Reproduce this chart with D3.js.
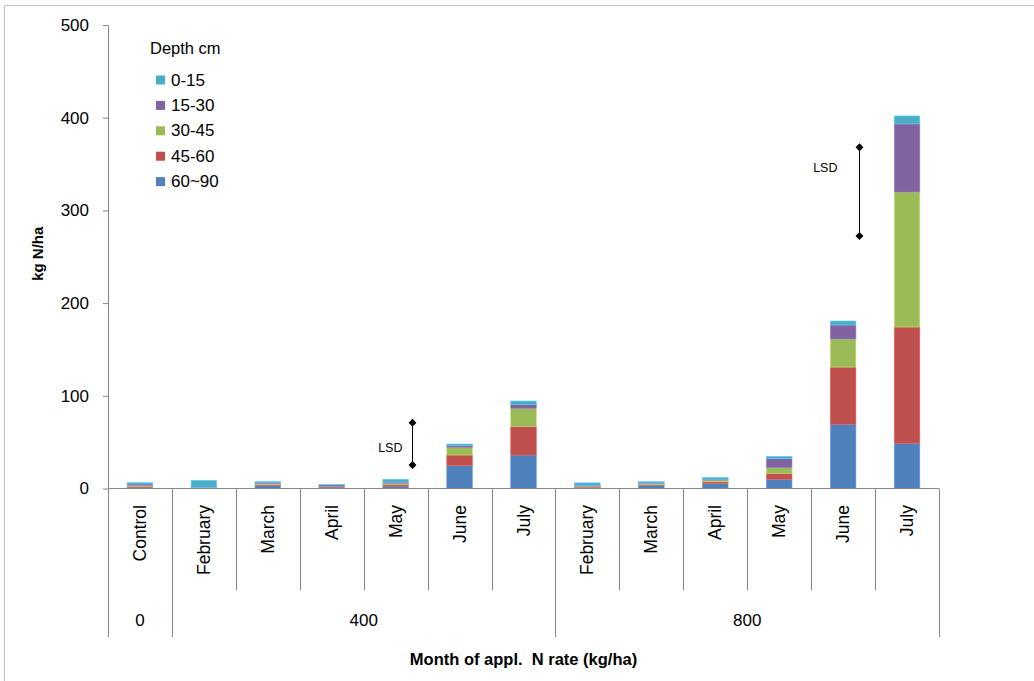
<!DOCTYPE html>
<html>
<head>
<meta charset="utf-8">
<script src="https://cdn.jsdelivr.net/npm/d3@7"></script>
<style>
  html, body { margin: 0; padding: 0; background: #fff; }
  svg { display: block; font-family: "Liberation Sans", Arial, sans-serif; }
</style>
</head>
<body>
<script>
// Month of N application, one bar per month within each N rate
const months = ["Control", "February", "March", "April", "May", "June", "July",
                "February", "March", "April", "May", "June", "July"];
const rateOfBar = ["0", "400", "400", "400", "400", "400", "400",
                   "800", "800", "800", "800", "800", "800"];
const rateLabels = ["0", "400", "800"];

// Soil mineral N (kg N/ha) by depth layer
const depth60_90 = [1.5, 0.3, 3.2, 1.5, 2.5, 24.6, 36.1, 1.0, 3.5, 5.4, 9.9, 69.3, 48.8];
const depth45_60 = [1.0, 0.2, 1.0, 0.5, 1.8, 11.5, 31.0, 0.7, 0.8, 1.8, 6.5, 61.7, 125.4];
const depth30_45 = [1.0, 0.2, 1.0, 0.5, 1.1, 8.3, 19.4, 0.8, 1.0, 1.8, 6.0, 30.3, 145.6];
const depth15_30 = [1.5, 0.6, 1.1, 1.5, 1.4, 1.8, 3.9, 0.6, 0.7, 1.0, 9.7, 15.1, 73.5];
const depth0_15  = [1.5, 7.5, 1.4, 0.5, 3.2, 1.8, 4.0, 3.0, 1.5, 1.8, 2.6, 4.3, 8.6];

const depthLabels = ["0-15", "15-30", "30-45", "45-60", "60~90"];
const depthColors = ["#4BACC6", "#8064A2", "#9BBB59", "#C0504D", "#4F81BD"];

const yTicks = [0, 100, 200, 300, 400, 500];

// LSD bars: bar index they sit beside, lower and upper ends, label level
const lsdAt = [4, 11];
const lsdLow = [25.4, 272.4];
const lsdHigh = [71.0, 368.1];
const lsdLabelAt = [43.7, 345.7];

const W = 1034, H = 681;
const axisColor = "#868686";

const svg = d3.select("body").append("svg")
  .attr("width", W).attr("height", H);

// chart frame (left and top edges)
svg.append("path")
  .attr("d", `M4.5,${H} V5.5 H${W}`)
  .attr("fill", "none").attr("stroke", "#bfbfbf").attr("stroke-width", 1);

const n = months.length;
const x = d3.scaleBand().domain(d3.range(n)).range([108, 939])
  .paddingInner(0.6).paddingOuter(0.3);
const y = d3.scaleLinear().domain([0, 500]).range([488.5, 25]);

const table = d3.range(n).map(i => ({
  i,
  "60~90": depth60_90[i], "45-60": depth45_60[i], "30-45": depth30_45[i],
  "15-30": depth15_30[i], "0-15": depth0_15[i]
}));
const stackKeys = depthLabels.slice().reverse();
const color = d3.scaleOrdinal().domain(depthLabels).range(depthColors);
const series = d3.stack().keys(stackKeys)(table);

// stacked bars
svg.append("g").selectAll("g").data(series).join("g")
  .attr("fill", s => color(s.key))
  .attr("stroke", s => d3.color(color(s.key)).brighter(0.6))
  .attr("stroke-width", 0.6)
  .selectAll("rect").data(s => s).join("rect")
  .attr("x", d => x(d.data.i))
  .attr("width", x.bandwidth())
  .attr("y", d => y(d[1]))
  .attr("height", d => Math.max(0, y(d[0]) - y(d[1])));

// y axis
const yAxis = svg.append("g").attr("transform", "translate(108,0)")
  .call(d3.axisLeft(y).tickValues(yTicks).tickSize(5).tickSizeOuter(0).tickPadding(14));
yAxis.select(".domain").attr("stroke", axisColor);
yAxis.selectAll(".tick line").attr("stroke", axisColor);
yAxis.selectAll(".tick text").attr("font-size", 17).attr("fill", "#000")
  .attr("font-family", "Liberation Sans, Arial, sans-serif");

// x axis: baseline, category separators and rate group separators
const step = x.step();
const gap = (step - x.bandwidth()) / 2;
const bandStart = i => (i < n ? x(i) - gap : x(n - 1) + x.bandwidth() + gap);
const y0 = y(0);
const gx = svg.append("g").attr("stroke", axisColor).attr("stroke-width", 1);
gx.append("line").attr("x1", bandStart(0)).attr("x2", bandStart(n))
  .attr("y1", y0).attr("y2", y0);

const groupEdges = [0];
for (let i = 1; i < n; i++) if (rateOfBar[i] !== rateOfBar[i - 1]) groupEdges.push(i);
groupEdges.push(n);

d3.range(n + 1).forEach(i => {
  const xx = Math.round(bandStart(i)) + 0.5;
  gx.append("line").attr("x1", xx).attr("x2", xx)
    .attr("y1", y0).attr("y2", groupEdges.includes(i) ? 637 : 590);
});

// month labels
svg.append("g").selectAll("text").data(months).join("text")
  .attr("transform", (d, i) => `translate(${x(i) + x.bandwidth() / 2},505) rotate(-90)`)
  .attr("text-anchor", "end").attr("dominant-baseline", "central")
  .attr("font-size", 17.5).attr("fill", "#000")
  .text(d => d);

// rate labels
svg.append("g").selectAll("text").data(rateLabels).join("text")
  .attr("x", (d, k) => (bandStart(groupEdges[k]) + bandStart(groupEdges[k + 1])) / 2)
  .attr("y", 620).attr("text-anchor", "middle").attr("dominant-baseline", "central")
  .attr("font-size", 17).attr("fill", "#000")
  .text(d => d);

// axis titles
svg.append("text")
  .attr("x", (bandStart(0) + bandStart(n)) / 2).attr("y", 659)
  .attr("text-anchor", "middle").attr("dominant-baseline", "central")
  .attr("font-size", 16.5).attr("font-weight", "bold").style("white-space", "pre")
  .text("Month of appl.  N rate (kg/ha)");

svg.append("text")
  .attr("transform", `translate(37,${(y(0) + y(500)) / 2 - 3}) rotate(-90)`)
  .attr("text-anchor", "middle").attr("dominant-baseline", "central")
  .attr("font-size", 15).attr("font-weight", "bold")
  .text("kg N/ha");

// LSD markers
const lsdX = i => x(i) - gap + 0.75 * step;
const labelGap = [10, 22];
const lsd = svg.append("g");
lsdAt.forEach((bi, k) => {
  const xx = Math.round(lsdX(bi)) + 0.5;
  lsd.append("line").attr("x1", xx).attr("x2", xx)
    .attr("y1", y(lsdLow[k])).attr("y2", y(lsdHigh[k]))
    .attr("stroke", "#000").attr("stroke-width", 1);
  [lsdLow[k], lsdHigh[k]].forEach(v => {
    lsd.append("path")
      .attr("d", d3.symbol(d3.symbolDiamond2, 40)())
      .attr("transform", `translate(${xx},${y(v)})`)
      .attr("fill", "#000");
  });
  lsd.append("text")
    .attr("x", xx - labelGap[k]).attr("y", y(lsdLabelAt[k]))
    .attr("text-anchor", "end").attr("dominant-baseline", "central")
    .attr("font-size", 12.5).text("LSD");
});

// legend
const legend = svg.append("g");
legend.append("text").attr("x", 150).attr("y", 48)
  .attr("dominant-baseline", "central").attr("font-size", 16.5)
  .text("Depth cm");
depthLabels.forEach((lab, k) => {
  const cy = 80 + k * 25.4;
  legend.append("rect").attr("x", 156).attr("y", cy - 4.5)
    .attr("width", 9).attr("height", 9).attr("fill", depthColors[k]);
  legend.append("text").attr("x", 171).attr("y", cy)
    .attr("dominant-baseline", "central").attr("font-size", 17)
    .text(lab);
});
</script>
</body>
</html>
